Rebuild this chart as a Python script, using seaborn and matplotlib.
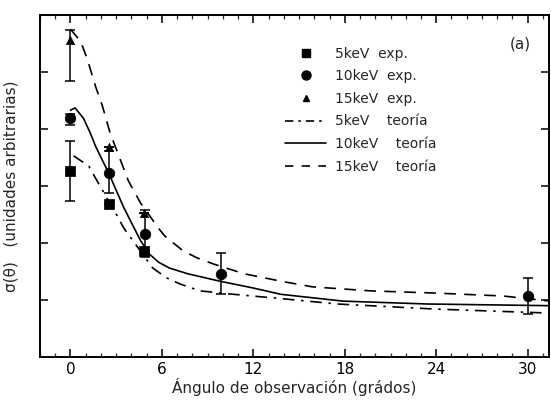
import numpy as np
import pandas as pd
import matplotlib
matplotlib.use("Agg")
import matplotlib.pyplot as plt
import seaborn as sns
from matplotlib.lines import Line2D
from matplotlib.ticker import MultipleLocator

# ---- data ----
# experimental points
exp5_x = [0, 2.5, 4.85]
exp5_y = [2.26, 1.68, 0.86]
exp5_err_lo = [0.52, 0, 0]
exp5_err_hi = [0.53, 0, 0]

exp10_x = [0, 2.5, 4.9, 9.9, 30.0]
exp10_y = [3.19, 2.23, 1.16, 0.46, 0.07]
exp10_err_lo = [0.12, 0.36, 0.40, 0.36, 0.32]
exp10_err_hi = [0.08, 0.38, 0.42, 0.36, 0.32]

exp15_x = [0, 2.5, 4.8]
exp15_y = [4.56, 2.68, 1.53]
exp15_err_lo = [0.72, 0, 0]
exp15_err_hi = [0.18, 0, 0]

# theory curves
th5_x = [0.2, 1.2, 1.64, 3.1, 3.5, 4.1, 5.4, 6.3, 7.2, 8.5, 10.7, 14.0, 17.5, 24.0, 31.5]
th5_y = [2.53, 2.35, 2.14, 1.46, 1.26, 1.04, 0.56, 0.39, 0.28, 0.16, 0.10, 0.02, -0.07, -0.16, -0.23]

th10_x = [0.0, 0.3, 0.85, 1.3, 1.64, 2.5, 3.5, 4.6, 5.2, 5.8, 6.5, 7.7, 9.8, 12.0, 13.8, 17.9, 23.4, 31.5]
th10_y = [3.33, 3.37, 3.19, 2.93, 2.70, 2.23, 1.62, 1.04, 0.80, 0.66, 0.56, 0.46, 0.33, 0.21, 0.10, -0.02, -0.07, -0.10]

th15_x = [0.0, 0.66, 1.1, 1.64, 2.1, 2.6, 3.8, 4.6, 5.8, 6.2, 7.4, 8.3, 9.4, 11.4, 13.8, 15.9, 19.7, 24.1, 28.4, 31.5]
th15_y = [4.75, 4.54, 4.23, 3.75, 3.40, 2.93, 2.09, 1.70, 1.25, 1.12, 0.86, 0.74, 0.63, 0.46, 0.33, 0.23, 0.16, 0.12, 0.07, -0.02]

x_ticks = [0, 6, 12, 18, 24, 30]
legend_labels = ["5keV  exp.", "10keV  exp.", "15keV  exp.",
                 "5keV    teoría", "10keV    teoría", "15keV    teoría"]

# ---- style ----
sns.set_style("ticks")
plt.rcParams['font.family'] = ['DejaVu Sans']

fig = plt.figure(figsize=(5.51, 4.05), dpi=100)
ax = fig.add_axes([40/551, 1-357/405, 509/551, 342/405])

lw = 1.2
sns.lineplot(x=th5_x, y=th5_y, ax=ax, color='k', lw=lw, linestyle=(0, (7, 4, 1.5, 4)))
sns.lineplot(x=th10_x, y=th10_y, ax=ax, color='k', lw=lw, linestyle='-')
sns.lineplot(x=th15_x, y=th15_y, ax=ax, color='k', lw=lw, linestyle=(0, (7, 5)))

for xs, ys, lo, hi, mk, ms in [
        (exp5_x, exp5_y, exp5_err_lo, exp5_err_hi, 's', 6.5),
        (exp10_x, exp10_y, exp10_err_lo, exp10_err_hi, 'o', 7.5),
        (exp15_x, exp15_y, exp15_err_lo, exp15_err_hi, '^', 6)]:
    sns.scatterplot(x=xs, y=ys, ax=ax, color='k', marker=mk, s=ms**2, edgecolor='k', zorder=5)
    ax.errorbar(xs, ys, yerr=[lo, hi], fmt='none', ecolor='k', elinewidth=1.1, capsize=3.5, capthick=1.1)

ax.set_xlim(-2.0, 31.4)
ax.set_ylim(-1.0, 5.0)
ax.set_xticks(x_ticks)
ax.xaxis.set_minor_locator(MultipleLocator(1))
ax.set_yticks([0, 1, 2, 3, 4])
ax.set_yticklabels([])
ax.tick_params(axis='both', which='major', direction='in', length=6, width=1.1,
               top=True, right=True, labelsize=11, colors='k')
ax.tick_params(axis='x', which='minor', direction='in', length=3, width=0.9, top=True)
for s in ax.spines.values():
    s.set_linewidth(1.4)
    s.set_color('k')

ax.set_xlabel("Ángulo de observación (grádos)", fontsize=11, labelpad=1)
ax.set_ylabel("σ(θ)   (unidades arbitrarias)", fontsize=11, labelpad=12)

handles = [
    Line2D([], [], color='k', marker='s', ls='none', ms=5.5),
    Line2D([], [], color='k', marker='o', ls='none', ms=6.5),
    Line2D([], [], color='k', marker='^', ls='none', ms=5),
    Line2D([], [], color='k', lw=lw, ls=(0, (5, 3, 1.5, 3))),
    Line2D([], [], color='k', lw=lw, ls='-'),
    Line2D([], [], color='k', lw=lw, ls=(0, (5, 5))),
]
ax.legend(handles, legend_labels, loc='upper left', bbox_to_anchor=(0.47, 0.924),
          frameon=False, fontsize=10, handlelength=3.0, labelspacing=0.62,
          handletextpad=0.6, borderaxespad=0)
ax.text(0.965, 0.915, "(a)", transform=ax.transAxes, ha='right', va='center', fontsize=11)

fig.savefig("out.png", dpi=100)
